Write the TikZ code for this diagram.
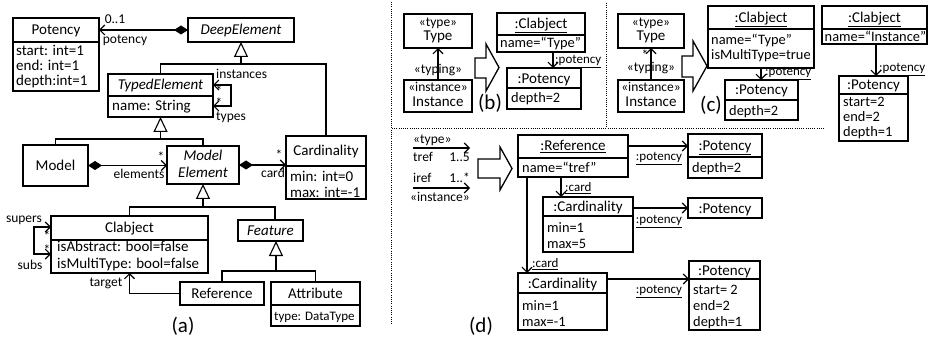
\documentclass[tikz,border=0pt]{standalone}
\usepackage{fontspec}
\setmainfont{Carlito}
\usetikzlibrary{arrows.meta}
\newcommand{\ubox}[5]{\node[box,minimum width={#4-#2},minimum height={#5-#3}] (#1) at ({(#2+#4)/2},{(#3+#5)/2}) {};}
\newcommand{\udiv}[2]{\draw[ln] (#1.west |- 0,#2) -- (#1.east |- 0,#2);}
\begin{document}
\begin{tikzpicture}[x=1pt,y=-1pt,
 ln/.style={line width=1.1pt},
 box/.style={draw,line width=1.1pt,inner sep=0pt,outer sep=0pt},
 tx/.style={inner sep=0pt,anchor=base,font=\fontsize{15}{17}\selectfont},
 txl/.style={tx,anchor=base west},
 ob/.style={inner sep=0pt,anchor=base west,font=\fontsize{14.4}{16}\selectfont},
 it/.style={tx,font=\fontsize{15}{17}\selectfont\itshape},
 st/.style={inner sep=0pt,anchor=base,font=\fontsize{13.5}{15}\selectfont},
 lb/.style={inner sep=0pt,anchor=base,font=\fontsize{13.5}{15}\selectfont},
 lbw/.style={lb,anchor=base west},
 lbe/.style={lb,anchor=base east},
 sm/.style={inner sep=0pt,anchor=base,font=\fontsize{13}{14}\selectfont},
 smw/.style={sm,anchor=base west},
 captn/.style={inner sep=0pt,anchor=base,font=\fontsize{21}{24}\selectfont},
 arr/.style={ln,-{Straight Barb[length=5pt,width=10pt]}},
 bb/.style={ln,{Straight Barb[length=5pt,width=10pt]}-{Straight Barb[length=5pt,width=10pt]}},
 comp/.style={ln,{Diamond[fill=black,length=14pt,width=9pt]}-{Straight Barb[length=5pt,width=10pt]}},
 gen/.style={ln,-{Triangle[open,fill=white,length=15pt,width=14pt]}},
 sep/.style={line width=0.8pt,dash pattern=on 1pt off 1.2pt},
 blk/.style={line width=1.3pt,line join=miter}
]
\fill[white] (0,0) rectangle (931,339);
\useasboundingbox (0,0) rectangle (931,339);

% ---------------- (a) ----------------
\ubox{pot}{13}{18}{99}{91} \udiv{pot}{42}
\node[tx] (potH) at (56,35) {Potency};
\node[txl] (potA1) at (16,56) {start: int=1};
\node[txl] (potA2) at (16,71) {end: int=1};
\node[txl] (potA3) at (16,86) {depth:int=1};

\ubox{deep}{188}{18}{294}{42}
\node[it] (deepH) at (241,35) {DeepElement};
\draw[comp] (deep.west) -- (deep.west -| pot.east);
\node[lb] (l01) at (115,24) {0..1};
\node[lb] (lpotency) at (125,44) {potency};

\ubox{typed}{108}{74}{213}{117} \udiv{typed}{96}
\node[it] (typedH) at (160.5,90) {TypedElement};
\node[txl] (typedA) at (112,111) {name: String};
\draw[bb] (typed.east |- 0,85) -- ++(18,0) |- (typed.east |- 0,106);
\node[lbw] (linst) at (216,78.5) {instances};
\node[lbw] (ltypes) at (216,120.5) {types};
\node[lb] (s1) at (219,95.5) {*};
\node[lb] (s2) at (219,107.5) {*};

\ubox{card}{286}{136}{366}{199} \udiv{card}{166}
\node[tx] (cardH) at (326,156) {Cardinality};
\node[txl] (cardA1) at (290,182) {min: int=0};
\node[txl] (cardA2) at (290,197.5) {max: int=-1};

\coordinate (g1) at (deep.south |- 0,64);
\draw[ln] (typed.north) |- (g1) -| (card.north);
\draw[gen] (g1) -- (deep.south);

\ubox{model}{23}{145}{88}{186}
\node[tx] (modelH) at (55.5,171) {Model};
\ubox{melem}{167}{146}{239}{184}
\node[it] (melemH1) at (203,160.5) {Model};
\node[it] (melemH2) at (203,177.5) {Element};

\coordinate (g2) at (typed.south |- 0,139);
\draw[ln] (model.north) |- (g2) -| (melem.north);
\draw[gen] (g2) -- (typed.south);

\draw[comp] (model.east) -- (model.east -| melem.west);
\node[lb] (s3) at (161,162) {*};
\node[lb] (lelem) at (139,178.5) {elements};
\draw[comp] (melem.east) -- (melem.east -| card.west);
\node[lb] (s4) at (279,160) {*};
\node[lb] (lcard) at (273,177.5) {card};

\ubox{clab}{51}{216}{208}{273} \udiv{clab}{240}
\node[tx] (clabH) at (129.5,232) {Clabject};
\node[txl] (clabA1) at (57,251.5) {isAbstract: bool=false};
\node[txl] (clabA2) at (57,268) {isMultiType: bool=false};

\ubox{feat}{238}{220}{303}{241}
\node[it] (featH) at (270.5,235) {Feature};

\coordinate (g3) at (melem.south |- 0,207);
\coordinate (fx) at (275,0);
\draw[ln] (clab.north) |- (g3) -| (feat.north -| fx);
\draw[gen] (g3) -- (melem.south);

\ubox{ref}{180}{282}{264}{305}
\node[tx] (refH) at (222,298.5) {Reference};
\ubox{attr}{271}{282}{360}{326} \udiv{attr}{305}
\node[tx] (attrH) at (315.5,298.5) {Attribute};
\node[smw] (attrA) at (274,320) {type: DataType};

\coordinate (g4) at (276,271);
\draw[ln] (ref.north) |- (g4) -| (attr.north);
\draw[gen] (g4) -- (g4 |- feat.south);

\draw[arr] (ref.west) -| (clab.south);
\node[lb] (ltarget) at (106,286.5) {target};

\draw[bb] (clab.west |- 0,227) -- ++(-17,0) |- (clab.west |- 0,254);
\node[lb] (lsupers) at (24,222.5) {supers};
\node[lb] (lsubs) at (30,269.5) {subs};
\node[lb] (s5) at (47,240) {*};
\node[lb] (s6) at (47,254) {*};

\node[captn] (capA) at (183,332) {(a)};

% separators
\draw[sep] (391,2) -- (391,325);
\draw[sep] (606,3) -- (606,128);
\draw[sep] (392,128) -- (824,128);

% ---------------- (b) ----------------
\ubox{typeB}{404}{14}{472}{48}
\node[st] (typeB1) at (438,26.5) {«type»};
\node[tx] (typeB2) at (438,41) {Type};
\ubox{instB}{404}{80}{472}{112}
\node[st] (instB1) at (438,92) {«instance»};
\node[tx] (instB2) at (438,106.5) {Instance};
\draw[arr] (instB.north) -- (typeB.south);
\node[st] (typingB) at (438,74) {«typing»};

\draw[blk] (475,58) -- (486,58) -- (486,44) -- (499,67.5) -- (486,91) -- (486,78) -- (475,78) -- cycle;

\ubox{clabB}{497}{13}{585}{52} \udiv{clabB}{35}
\node[tx] (clabBH) at (541,28.5) {\underline{:Clabject}};
\node[ob] (clabBA) at (500,48) {name=“Type”};
\ubox{potB}{507}{68}{581}{109} \udiv{potB}{88}
\node[tx] (potBH) at (544,83.5) {\underline{:Potency}};
\node[ob] (potBA) at (511,103) {depth=2};
\coordinate (bA) at (553,0);
\draw[arr] (clabB.south -| bA) -- (potB.north -| bA);
\node[smw] (lpb) at (555,64) {\underline{:potency}};
\node[captn] (capB) at (490,110) {(b)};

% ---------------- (c) ----------------
\ubox{typeC}{618}{14}{684}{48}
\node[st] (typeC1) at (651,26.5) {«type»};
\node[tx] (typeC2) at (651,41) {Type};
\ubox{instC}{618}{80}{684}{112}
\node[st] (instC1) at (651,92) {«instance»};
\node[tx] (instC2) at (651,106.5) {Instance};
\draw[arr] (instC.north) -- (typeC.south);
\node[st] (typingC) at (651,72) {«typing»};
\node[lb] (s7) at (645,60) {*};

\draw[blk] (682,56) -- (693,56) -- (693,41) -- (707,66) -- (693,91) -- (693,77) -- (682,77) -- cycle;

\ubox{clabC}{708}{6}{814}{68} \udiv{clabC}{29}
\node[tx] (clabCH) at (761,22.5) {\underline{:Clabject}};
\node[ob] (clabCA1) at (711,44.5) {name=“Type”};
\node[ob] (clabCA2) at (711,59.5) {isMultiType=true};
\ubox{potC}{725}{80}{798}{120} \udiv{potC}{100}
\node[tx] (potCH) at (761.5,95) {\underline{:Potency}};
\node[ob] (potCA) at (729,115.5) {depth=2};
\coordinate (cA) at (761,0);
\draw[arr] (clabC.south -| cA) -- (potC.north -| cA);
\node[smw] (lpc) at (765,76) {\underline{:potency}};
\node[captn] (capC) at (711,112) {(c)};

\ubox{clabR}{822}{6}{927}{44} \udiv{clabR}{29}
\node[tx] (clabRH) at (874.5,22.5) {\underline{:Clabject}};
\node[ob] (clabRA) at (824.5,41.5) {name=“Instance”};
\ubox{potR}{839}{76}{908}{141} \udiv{potR}{94}
\node[tx] (potRH) at (873.5,90) {\underline{:Potency}};
\node[ob] (potRA1) at (843,106.5) {start=2};
\node[ob] (potRA2) at (843,121.5) {end=2};
\node[ob] (potRA3) at (843,136.5) {depth=1};
\coordinate (rA) at (876,0);
\draw[arr] (clabR.south -| rA) -- (potR.north -| rA);
\node[smw] (lpr) at (879,72) {\underline{:potency}};

% ---------------- (d) ----------------
\node[lbw] (ltype) at (413,144) {«type»};
\coordinate (t1) at (413,148);
\coordinate (t2) at (470,148);
\draw[arr] (t1) -- (t2);
\node[lbw] (ltref) at (413,162) {tref};
\node[lbe] (l15) at (470,162) {1..5};
\node[lbw] (liref) at (413,182.5) {iref};
\node[lbe] (l1s) at (470,182.5) {1..*};
\coordinate (i1) at (413,188);
\coordinate (i2) at (470,188);
\draw[arr] (i1) -- (i2);
\node[lbw] (linstance) at (410,201) {«instance»};

\draw[blk] (478,159) -- (500,159) -- (500,147) -- (512,168.5) -- (500,190) -- (500,178) -- (478,178) -- cycle;

\ubox{refD}{518}{135}{628}{177} \udiv{refD}{158}
\node[tx] (refDH) at (573,151) {\underline{:Reference}};
\node[ob] (refDA) at (522,173) {name=“tref”};
\ubox{pot1}{688}{134}{762}{178} \udiv{pot1}{157}
\node[tx] (pot1H) at (725,150.5) {\underline{:Potency}};
\node[ob] (pot1A) at (692,173) {depth=2};
\draw[arr] (refD.east |- 0,146) -- (pot1.west |- 0,146);
\node[sm] (lp1) at (659,160.5) {\underline{:potency}};

\ubox{card1}{543}{197}{633}{252} \udiv{card1}{216}
\node[tx] (card1H) at (588,211.5) {\underline{:Cardinality}};
\node[ob] (card1A1) at (547,233) {min=1};
\node[ob] (card1A2) at (547,248.5) {max=5};
\coordinate (dA) at (561,0);
\draw[arr] (refD.south -| dA) -- (card1.north -| dA);
\node[smw] (lc1) at (565,192) {\underline{:card}};

\ubox{pot2}{688}{198}{762}{218}
\node[tx] (pot2H) at (725,213) {\underline{:Potency}};
\draw[arr] (card1.east |- 0,208) -- (pot2.west |- 0,208);
\node[sm] (lp2) at (659,223.5) {\underline{:potency}};

\ubox{card2}{518}{273}{607}{330} \udiv{card2}{293}
\node[tx] (card2H) at (562.5,288) {\underline{:Cardinality}};
\node[ob] (card2A1) at (522,310.5) {min=1};
\node[ob] (card2A2) at (522,326.5) {max=-1};
\coordinate (dB) at (527,0);
\draw[arr] (refD.south -| dB) -- (card2.north -| dB);
\node[smw] (lc2) at (532,267.5) {\underline{:card}};

\ubox{pot3}{689}{261}{760}{330} \udiv{pot3}{279}
\node[tx] (pot3H) at (724.5,275) {\underline{:Potency}};
\node[ob] (pot3A1) at (693,294) {start= 2};
\node[ob] (pot3A2) at (693,310) {end=2};
\node[ob] (pot3A3) at (693,326) {depth=1};
\draw[arr] (card2.east |- 0,279) -- (pot3.west |- 0,279);
\node[sm] (lp3) at (659,293.5) {\underline{:potency}};

\node[captn] (capD) at (481,332) {(d)};
\end{tikzpicture}
\end{document}
